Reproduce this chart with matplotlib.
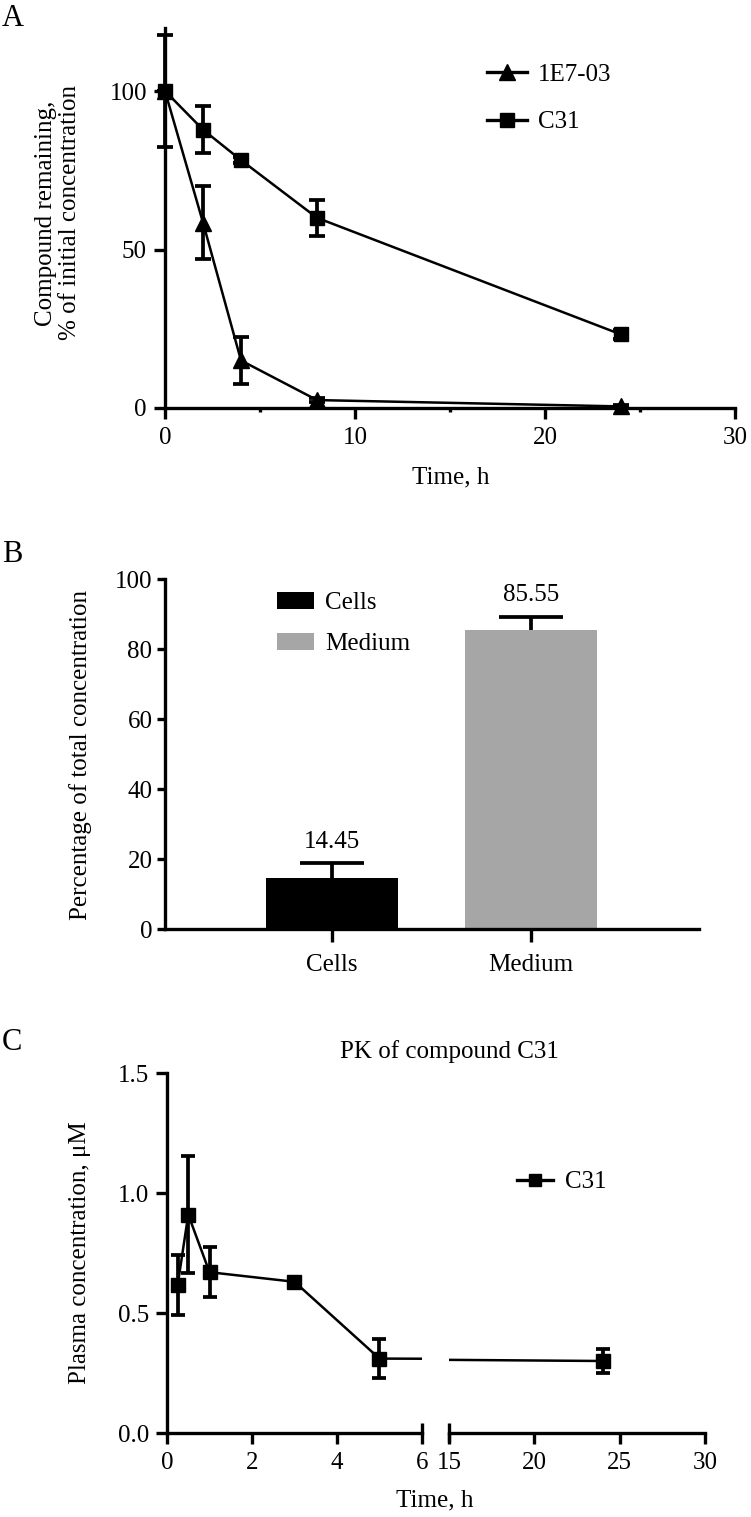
import matplotlib
matplotlib.use('Agg')
import matplotlib.pyplot as plt
from matplotlib.lines import Line2D
from matplotlib.patches import Patch

plt.rcParams['font.family'] = ['Liberation Serif', 'DejaVu Serif']
plt.rcParams['axes.linewidth'] = 2.4

# ---------------- data ----------------
# Panel A: stability
time_a = [0, 2, 4, 8, 24]
e7_name = '1E7-03'
e7_vals = [100, 58.5, 15.0, 2.5, 0.5]
e7_err = [17.7, 11.5, 7.4, 0.5, 0.3]
c31_name = 'C31'
c31_vals = [100, 87.8, 78.2, 60.0, 23.2]
c31_err = [0, 7.5, 1.0, 5.7, 1.5]
xticks_a = [0, 10, 20, 30]
yticks_a = [0, 50, 100]

# Panel B: distribution
categories_b = ['Cells', 'Medium']
values_b = [14.45, 85.55]
errors_b = [4.4, 3.6]
colors_b = ['#000000', '#a6a6a6']
yticks_b = [0, 20, 40, 60, 80, 100]

# Panel C: PK
time_c = [0.25, 0.5, 1, 3, 5, 24]
conc_c = [0.615, 0.91, 0.67, 0.63, 0.31, 0.30]
err_c = [0.125, 0.245, 0.105, 0.02, 0.08, 0.05]
xticks_c1 = [0, 2, 4, 6]
xticks_c2 = [15, 20, 25, 30]
yticks_c = [0.0, 0.5, 1.0, 1.5]

# ---------------- layout helpers ----------------
W, H = 751, 1517
fig = plt.figure(figsize=(W / 100, H / 100), dpi=100)


def rect(l, r, t, b):
    return [l / W, 1 - b / H, (r - l) / W, (b - t) / H]


def fx(x):
    return x / W


def fy(y):
    return 1 - y / H


def noclip(container):
    for a in container.lines:
        if a is None:
            continue
        if isinstance(a, (tuple, list)):
            for b in a:
                b.set_clip_on(False)
        else:
            a.set_clip_on(False)


LW = 2.4
ELW = 2.7
DLW = 1.8
FS = 18

# ---------------- Panel A ----------------
axA = fig.add_axes(rect(165, 735, 27.6, 408))
ebA1 = axA.errorbar(time_a, e7_vals, yerr=e7_err, color='black', marker='^', ms=11,
                    lw=DLW, elinewidth=ELW, capsize=6, capthick=ELW, zorder=3)
ebA2 = axA.errorbar(time_a, c31_vals, yerr=c31_err, color='black', marker='s', ms=10,
                    lw=DLW, elinewidth=ELW, capsize=6, capthick=ELW, zorder=4)
noclip(ebA1)
noclip(ebA2)
axA.set_xlim(0, 30)
axA.set_ylim(0, 120)
axA.set_xticks(xticks_a)
axA.set_xticks([5, 15, 25], minor=True)
axA.set_yticks(yticks_a)
for s in ['top', 'right']:
    axA.spines[s].set_visible(False)
axA.tick_params(axis='both', which='major', width=LW, length=8, labelsize=FS, pad=5)
axA.tick_params(axis='x', which='minor', width=LW, length=3)
axA.tick_params(axis='x', which='major', pad=6)
fig.text(fx(451), fy(477), 'Time, h', ha='center', va='center', fontsize=FS)
fig.text(fx(58), fy(213), 'Compound remaining,\n% of initial concentration', rotation=90,
         ha='center', va='center', fontsize=FS, linespacing=1.1, multialignment='center')
hA = [Line2D([], [], color='black', lw=LW, marker='^', ms=11),
      Line2D([], [], color='black', lw=LW, marker='s', ms=10)]
fig.legend(hA, [e7_name, c31_name], loc='center left', bbox_to_anchor=(fx(487), fy(98.5)),
           frameon=False, fontsize=FS, handlelength=1.6, handletextpad=0.45,
           labelspacing=1.0, borderpad=0, borderaxespad=0)
fig.text(fx(2), fy(18), 'A', ha='left', va='center', fontsize=22)

# ---------------- Panel B ----------------
axB = fig.add_axes(rect(165, 699, 579, 929))
xb = list(range(len(categories_b)))
axB.bar(xb, values_b, width=0.66, color=colors_b, edgecolor='none', zorder=2)
ebB = axB.errorbar(xb, values_b, yerr=[[0] * len(errors_b), errors_b], fmt='none',
                   ecolor='black', elinewidth=ELW, capsize=23, capthick=ELW, zorder=3)
# only the upper caps are shown
caplines = ebB.lines[1]
if len(caplines) == 2:
    caplines[0].set_visible(False)
axB.set_xlim(-0.84, 1.845)
axB.set_ylim(0, 100)
axB.set_yticks(yticks_b)
axB.set_xticks(xb)
axB.set_xticklabels(categories_b)
for s in ['top', 'right']:
    axB.spines[s].set_visible(False)
axB.tick_params(axis='y', width=LW, length=6, labelsize=FS, pad=3)
axB.tick_params(axis='x', width=LW, length=9, labelsize=FS, pad=9)
for xi, v, e in zip(xb, values_b, errors_b):
    axB.text(xi, v + e + 3.0, f'{v:.2f}', ha='center', va='bottom', fontsize=FS)
fig.text(fx(81), fy(755), 'Percentage of total concentration', rotation=90,
         ha='center', va='center', fontsize=FS)
hB = [Patch(facecolor=c, edgecolor='none') for c in colors_b]
fig.legend(hB, categories_b, loc='center left', bbox_to_anchor=(fx(277), fy(623.5)),
           frameon=False, fontsize=FS, handlelength=1.48, handleheight=0.7,
           handletextpad=0.45, labelspacing=0.75, borderpad=0, borderaxespad=0)
fig.text(fx(2), fy(555), 'B', ha='left', va='center', fontsize=22)

# ---------------- Panel C ----------------
axC1 = fig.add_axes(rect(167, 422, 1073, 1433))
axC2 = fig.add_axes(rect(449, 705, 1073, 1433))
for ax in (axC1, axC2):
    eb = ax.errorbar(time_c, conc_c, yerr=err_c, color='black', marker='s', ms=10,
                     lw=DLW, elinewidth=ELW, capsize=5, capthick=ELW, zorder=3)
    for s in ['top', 'right']:
        ax.spines[s].set_visible(False)
    ax.set_ylim(0, 1.5)
    ax.tick_params(axis='both', width=LW, length=8, labelsize=FS, pad=5)
    ax.tick_params(axis='x', pad=6)
axC1.set_xlim(0, 6)
axC2.set_xlim(15, 30)
axC1.set_xticks(xticks_c1)
axC2.set_xticks(xticks_c2)
axC1.set_yticks(yticks_c)
axC1.set_yticklabels([f'{v:.1f}' for v in yticks_c])
axC2.spines['left'].set_visible(False)
axC2.set_yticks([])
# break end marks
axC1.plot([1, 1], [0, 0.028], transform=axC1.transAxes, color='black', lw=LW, clip_on=False,
          solid_capstyle='butt')
axC2.plot([0, 0], [-0.025, 0.028], transform=axC2.transAxes, color='black', lw=LW, clip_on=False,
          solid_capstyle='butt')
fig.text(fx(435), fy(1500), 'Time, h', ha='center', va='center', fontsize=FS)
fig.text(fx(449), fy(1052), 'PK of compound C31', ha='center', va='center', fontsize=FS)
fig.text(fx(80), fy(1253), 'Plasma concentration, μM', rotation=90,
         ha='center', va='center', fontsize=FS)
hC = [Line2D([], [], color='black', lw=LW, marker='s', ms=8)]
fig.legend(hC, [c31_name], loc='center left', bbox_to_anchor=(fx(517), fy(1182)),
           frameon=False, fontsize=FS, handlelength=1.45, handletextpad=0.45,
           borderpad=0, borderaxespad=0)
fig.text(fx(2), fy(1042), 'C', ha='left', va='center', fontsize=22)

fig.savefig('out.png', dpi=100)
